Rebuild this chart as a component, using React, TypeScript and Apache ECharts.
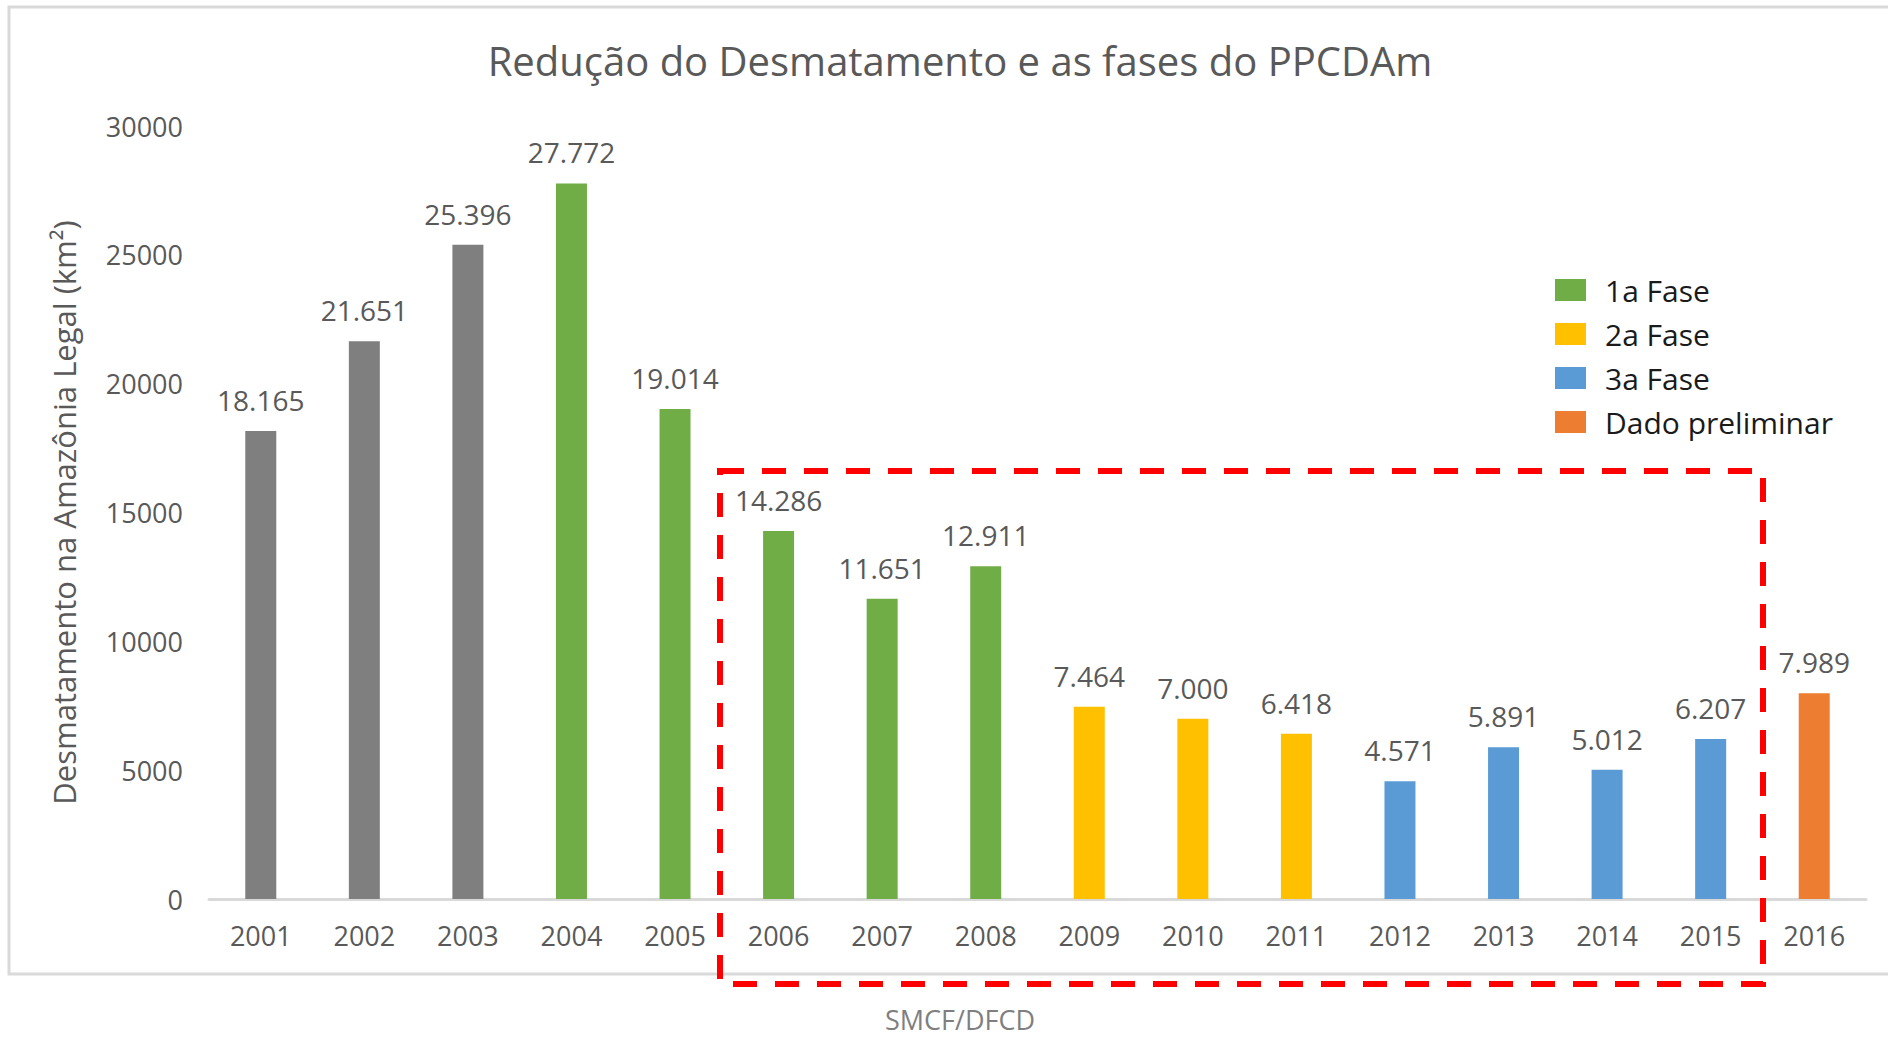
import React, { useEffect, useRef } from "react";
import * as echarts from "echarts";

const years = ["2001","2002","2003","2004","2005","2006","2007","2008","2009","2010","2011","2012","2013","2014","2015","2016"];
const values = [18165, 21651, 25396, 27772, 19014, 14286, 11651, 12911, 7464, 7000, 6418, 4571, 5891, 5012, 6207, 7989];
// phase index per year: 0 = before PPCDAm, 1..3 = phases, 4 = preliminary
const phaseOf = [0, 0, 0, 1, 1, 1, 1, 1, 2, 2, 2, 3, 3, 3, 3, 4];
const phaseNames = ["Antes", "1a Fase", "2a Fase", "3a Fase", "Dado preliminar"];
const phaseColors = ["#7f7f7f", "#70ad47", "#ffc000", "#5b9bd5", "#ed7d31"];
const yTicks = { min: 0, max: 30000, interval: 5000 };

const fmt = (v: number) => {
  const s = String(Math.round(v));
  return s.replace(/\B(?=(\d{3})+(?!\d))/g, ".");
};

export default function App() {
  const ref = useRef<HTMLDivElement>(null);
  useEffect(() => {
    if (!ref.current) return;
    const chart = echarts.init(ref.current, null, { renderer: "svg" });
    const font = "'Open Sans', 'Noto Sans', sans-serif";
    const series = phaseNames.map((name, p) => ({
      name,
      type: "bar",
      stack: "all",
      barWidth: 31,
      itemStyle: { color: phaseColors[p] },
      label: {
        show: true,
        position: "top",
        distance: 17,
        color: "#595959",
        fontSize: 28,
        fontFamily: font,
        formatter: (d: any) => fmt(d.value),
      },
      data: values.map((v, i) => (phaseOf[i] === p ? v : null)),
    }));
    chart.setOption({
      animation: false,
      backgroundColor: "#ffffff",
      title: {
        text: "Redução do Desmatamento e as fases do PPCDAm",
        left: 955,
        textAlign: "center",
        top: 35,
        textStyle: { color: "#595959", fontSize: 40, fontWeight: "normal", fontFamily: font },
      },
      legend: {
        data: phaseNames.slice(1),
        orient: "vertical",
        left: 1550,
        top: 270,
        icon: "rect",
        itemWidth: 31,
        itemHeight: 22,
        itemGap: 14,
        textStyle: { color: "#1a1a1a", fontSize: 30, fontFamily: font, lineHeight: 30, padding: [0, 0, 0, 14] },
      },
      grid: { left: 209, right: 22, top: 126, bottom: 139 },
      xAxis: {
        type: "category",
        data: years,
        axisLine: { lineStyle: { color: "#d9d9d9", width: 3 } },
        axisTick: { show: false },
        axisLabel: { color: "#595959", fontSize: 27, fontFamily: font, margin: 23 },
      },
      yAxis: {
        type: "value",
        min: yTicks.min,
        max: yTicks.max,
        interval: yTicks.interval,
        splitLine: { show: false },
        axisLine: { show: false },
        axisLabel: {
          color: "#595959",
          fontSize: 27,
          fontFamily: font,
          margin: 26,
          formatter: (v: number) => String(v),
        },
        name: "Desmatamento na Amazônia Legal (km²)",
        nameLocation: "middle",
        nameGap: 130,
        nameTextStyle: { color: "#595959", fontSize: 31, fontFamily: font },
      },
      series,
      graphic: [
        {
          type: "rect",
          shape: { x: 9, y: 7, width: 1900, height: 967 },
          style: { fill: "none", stroke: "#d9d9d9", lineWidth: 3 },
          silent: true,
        },
        {
          type: "rect",
          shape: { x: 720, y: 471, width: 1043, height: 513 },
          style: { fill: "none", stroke: "#ff0000", lineWidth: 6, lineDash: [24, 18] },
          silent: true,
          z: 100,
        },
        {
          type: "text",
          x: 960,
          y: 1019,
          style: {
            text: "SMCF/DFCD",
            fill: "#7f7f7f",
            fontSize: 27,
            fontFamily: font,
            align: "center",
            verticalAlign: "middle",
          },
        },
      ],
    });
    return () => chart.dispose();
  }, []);
  return (
    <div
      ref={ref}
      style={{ position: "absolute", left: 0, top: 0, width: 1888, height: 1038 }}
    />
  );
}
